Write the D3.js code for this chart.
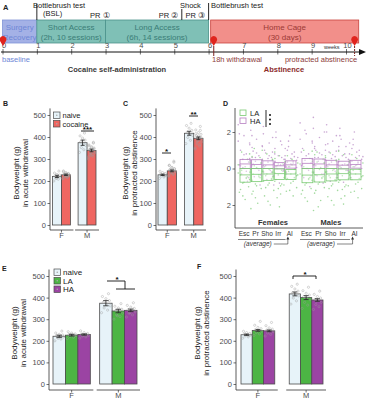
<!DOCTYPE html>
<html>
<head>
<meta charset="utf-8">
<style>
  body { margin: 0; background: #fff; }
  svg { font-family: "Liberation Sans", Arial, sans-serif; }
  .tick text { fill: #4d4d4d; font-size: 7.5px; }
  .tick line { stroke: #333; stroke-width: 0.7; }
</style>
</head>
<body>
<div id="fig"></div>
<script src="https://d3js.org/d3.v7.min.js"></script>
<script>
// ---------- data ----------
const sexes = ['F', 'M'];
const yTicks = [0, 100, 200, 300, 400, 500];

// timeline (weeks)
const weekTicks = [0, 1, 2, 3, 4, 5, 6, 7, 8, 9, 10];
const phaseTop = ['Surgery', 'Short Access', 'Long Access', 'Home Cage'];
const phaseSub = ['Recovery', '(2h, 10 sessions)', '(6h, 14 sessions)', '(30 days)'];
const phaseStart = [0, 1, 3, 6.06];
const phaseEnd = [1, 3, 6, 10.37];
const prWeeks = [3, 5, 5.78];
const prLabels = ['PR \u2460', 'PR \u2461', 'PR \u2462'];
const pinWeeks = [0, 6.15, 10.25];

// acute withdrawal (B, E)
const acuteNaiveMean = [221, 374], acuteNaiveSem = [5, 12];
const acuteCocMean = [228, 339], acuteCocSem = [3, 6];
const acuteLAMean = [226, 338], acuteLASem = [4, 8];
const acuteHAMean = [229, 341], acuteHASem = [3, 6];
const acuteNaivePts = [[200, 208, 214, 218, 221, 224, 227, 230, 236, 245, 212],
                       [330, 342, 352, 362, 370, 378, 386, 395, 405, 418]];
const acuteLAPts = [[210, 216, 220, 224, 226, 229, 232, 236, 242, 222, 228],
                    [300, 312, 320, 328, 335, 340, 346, 352, 360, 372, 316]];
const acuteHAPts = [[212, 218, 222, 225, 228, 231, 234, 238, 246, 229, 226],
                    [310, 320, 328, 334, 340, 344, 350, 356, 364, 376, 330]];

// protracted abstinence (C, F)
const protNaiveMean = [228, 417], protNaiveSem = [3, 9];
const protCocMean = [246, 394], protCocSem = [4, 6];
const protLAMean = [248, 400], protLASem = [4, 9];
const protHAMean = [246, 389], protHASem = [4, 6];
const protNaivePts = [[212, 218, 222, 226, 228, 231, 234, 238, 244, 225],
                      [370, 385, 398, 408, 415, 422, 430, 440, 452, 462]];
const protLAPts = [[225, 232, 238, 244, 248, 252, 256, 262, 272, 290, 246],
                   [350, 365, 378, 390, 398, 405, 412, 420, 432, 448, 395]];
const protHAPts = [[222, 230, 236, 242, 246, 250, 254, 260, 270, 285, 244],
                   [345, 358, 368, 378, 386, 392, 398, 405, 415, 430, 384]];

// D: z-scores per measure
const measures = ['Esc', 'Pr', 'Sho', 'Irr', 'AI'];
const haBoxF = [[0.0, 0.25, 0.5], [0.0, 0.22, 0.48], [0.0, 0.2, 0.42], [-0.02, 0.15, 0.32], [0.02, 0.2, 0.42]];
const haBoxM = [[0.0, 0.28, 0.55], [0.0, 0.25, 0.52], [0.0, 0.2, 0.45], [-0.02, 0.18, 0.4], [0.02, 0.22, 0.45]];
const laBoxF = [[-0.75, -0.35, 0.0], [-0.72, -0.32, 0.0], [-0.65, -0.3, 0.0], [-0.6, -0.28, -0.02], [-0.6, -0.3, -0.05]];
const laBoxM = [[-0.78, -0.36, 0.0], [-0.74, -0.34, 0.0], [-0.68, -0.3, 0.0], [-0.62, -0.28, -0.02], [-0.62, -0.3, -0.04]];
const haPtsF = [
  [2.4, 1.8, 1.3, 1.0, 0.8, 0.6, 0.5, 0.35, 0.2, 0.1, -0.05, -0.3, -0.7, 1.5, 0.75, 0.45, 0.15, -0.15, 1.15, 0.05, -0.5, 1.9],
  [2.1, 1.6, 1.2, 0.95, 0.7, 0.55, 0.4, 0.3, 0.15, 0.0, -0.2, -0.45, -0.9, 2.7, 0.85, 0.5, 0.25, -0.1, 1.4, 0.6, -0.3, 1.8],
  [1.9, 1.4, 1.1, 0.85, 0.6, 0.45, 0.35, 0.25, 0.1, -0.1, -0.35, -0.6, 1.7, 2.3, 0.7, 0.4, 0.15, -0.2, 1.25, 0.55, -0.9, 1.0],
  [1.7, 1.3, 0.9, 0.7, 0.5, 0.35, 0.2, 0.1, 0.0, -0.15, -0.4, -0.8, 1.1, 2.0, 0.6, 0.45, 0.25, -0.05, 0.8, 1.5, -0.3, 0.15],
  [1.2, 0.9, 0.7, 0.55, 0.45, 0.35, 0.3, 0.2, 0.1, 0.0, -0.2, 0.8, 0.6, 1.5, 0.65, 0.5, 0.25, 0.05, 1.0, 0.4, -0.1, 1.8]];
const haPtsM = [
  [2.5, 1.9, 1.4, 1.1, 0.8, 0.6, 0.45, 0.3, 0.15, 0.0, -0.2, -0.5, -1.0, 1.6, 0.7, 0.5, 0.2, -0.1, 1.2, 2.1, -0.4, 0.9],
  [2.2, 1.7, 1.3, 1.0, 0.75, 0.55, 0.4, 0.3, 0.2, 0.05, -0.15, -0.4, -0.8, 2.8, 0.85, 0.45, 0.15, -0.3, 1.5, 0.6, 2.0, 1.1],
  [2.0, 1.5, 1.2, 0.9, 0.65, 0.5, 0.35, 0.2, 0.1, -0.05, -0.3, -0.7, 1.8, 2.4, 0.75, 0.4, 0.25, -0.15, 1.0, 0.55, -0.5, 1.35],
  [1.8, 1.2, 0.95, 0.7, 0.5, 0.35, 0.25, 0.15, 0.05, -0.1, -0.35, -0.75, 1.4, 2.2, 0.6, 0.45, 0.2, -0.2, 1.0, 0.8, -0.5, 1.6],
  [1.3, 1.0, 0.8, 0.6, 0.5, 0.4, 0.3, 0.2, 0.1, -0.05, -0.25, 0.9, 0.65, 1.6, 0.7, 0.45, 0.15, 0.0, 1.1, 0.35, -0.1, 2.0]];
const laPtsF = [
  [0.9, 0.5, 0.2, 0.0, -0.2, -0.35, -0.5, -0.65, -0.8, -1.0, -1.3, -1.7, -2.2, -0.1, -0.45, -0.25, -0.75, 0.35, -1.15, -0.55, 0.65, -1.5],
  [1.1, 0.6, 0.3, 0.05, -0.15, -0.3, -0.45, -0.6, -0.85, -1.1, -1.4, -1.9, -0.7, 0.15, -0.5, -0.2, -0.95, 0.45, -1.25, -0.35, 0.8, -1.6],
  [0.8, 0.45, 0.15, -0.05, -0.25, -0.4, -0.55, -0.7, -0.9, -1.2, -1.5, -2.0, 0.3, -0.3, -0.45, -0.15, -0.8, 0.55, -1.05, -0.6, 1.0, -1.8],
  [0.7, 0.4, 0.1, -0.1, -0.2, -0.35, -0.5, -0.7, -0.95, -1.25, -1.6, 0.25, -0.45, -2.1, -0.3, -0.6, -0.85, 0.5, -1.1, -0.15, 0.9, -1.4],
  [0.5, 0.3, 0.1, -0.05, -0.2, -0.3, -0.4, -0.55, -0.7, -0.9, -1.2, -0.25, -0.6, 0.2, -0.35, -0.15, -0.5, 0.35, -0.8, -1.05, 0.7, -1.5]];
const laPtsM = [
  [1.0, 0.55, 0.25, 0.0, -0.2, -0.4, -0.55, -0.7, -0.9, -1.1, -1.4, -1.8, -2.3, 0.1, -0.5, -0.3, -0.8, 0.4, -1.2, -0.6, 0.75, -1.6],
  [0.9, 0.5, 0.2, -0.05, -0.2, -0.35, -0.5, -0.65, -0.85, -1.05, -1.35, -1.75, -0.3, 0.35, -0.45, -0.25, -0.75, 0.6, -1.2, -0.55, 0.95, -2.1],
  [0.85, 0.4, 0.15, -0.1, -0.25, -0.4, -0.6, -0.75, -0.95, -1.2, -1.55, -2.0, 0.3, -0.5, -0.5, -0.2, -0.85, 0.5, -1.1, -0.65, 0.7, -1.75],
  [0.75, 0.35, 0.1, -0.1, -0.25, -0.4, -0.55, -0.75, -1.0, -1.3, -1.65, 0.2, -0.3, -1.95, -0.35, -0.65, -0.9, 0.45, -1.15, -0.2, 0.95, -1.5],
  [0.55, 0.3, 0.1, -0.05, -0.2, -0.3, -0.45, -0.6, -0.75, -0.95, -1.25, -0.15, -0.5, 0.2, -0.4, -0.1, -0.55, 0.4, -0.85, -1.1, 0.75, -1.6]];

// colours
const col = { naive: '#e7f3f9', cocaine: '#ef6661', LA: '#4cb544', HA: '#9b44a3' };

// ---------- svg ----------
const svg = d3.select('#fig').append('svg')
  .attr('width', 366).attr('height', 400);

function txt(x, y, s, size, opts = {}) {
  return svg.append('text').attr('x', x).attr('y', y).text(s)
    .attr('font-size', size)
    .attr('fill', opts.fill || '#222')
    .attr('font-weight', opts.weight || 'normal')
    .attr('font-style', opts.style || 'normal')
    .attr('text-anchor', opts.anchor || 'start');
}

// panel letters
txt(3, 10, 'A', 7.5, { weight: 'bold' });
txt(3, 106, 'B', 7, { weight: 'bold' });
txt(123, 106, 'C', 7, { weight: 'bold' });
txt(223, 106, 'D', 7, { weight: 'bold' });
txt(2, 271, 'E', 7, { weight: 'bold' });
txt(197, 269, 'F', 7, { weight: 'bold' });

// ---------- A: timeline ----------
const wx = d3.scaleLinear().domain([0, 10]).range([2.5, 346]);
const phaseFill = ['#a4b1e6', '#7fc0b6', '#7fc0b6', '#f28f8a'];
const phaseStroke = ['#8193d6', '#4b928a', '#4b928a', '#c8433d'];
const phaseText = ['#6f87d6', '#3b7d76', '#3b7d76', '#9c3a36'];

phaseTop.forEach((p, i) => {
  const x0 = wx(phaseStart[i]), x1 = wx(phaseEnd[i]);
  svg.append('rect').attr('x', x0).attr('y', 20).attr('width', x1 - x0).attr('height', 23)
    .attr('fill', phaseFill[i]).attr('stroke', phaseStroke[i]).attr('stroke-width', 0.8);
  txt((x0 + x1) / 2, 30, p, 8, { anchor: 'middle', fill: phaseText[i] });
  txt((x0 + x1) / 2, 40, phaseSub[i], 8, { anchor: 'middle', fill: phaseText[i] });
});

const tl = svg.append('g').attr('transform', 'translate(0,52)')
  .call(d3.axisTop(wx).tickValues(weekTicks).tickSize(3).tickPadding(1));
tl.select('.domain').remove();
tl.selectAll('.tick text').attr('font-size', 6.5).attr('dx', 1);
tl.selectAll('.tick').append('line').attr('y1', 0).attr('y2', 2.5).attr('stroke', '#333').attr('stroke-width', 0.7);
svg.append('line').attr('x1', 1).attr('x2', 361).attr('y1', 52).attr('y2', 52)
  .attr('stroke', '#111').attr('stroke-width', 1);
svg.append('path').attr('d', 'M359,49 L366,52 L359,55 Z').attr('fill', '#111');
txt(324, 49, 'weeks', 5.5, { fill: '#333' });

// event markers above
svg.append('line').attr('x1', wx(1)).attr('x2', wx(1)).attr('y1', 4).attr('y2', 20).attr('stroke', '#111').attr('stroke-width', 0.9);
txt(33, 8, 'Bottlebrush test', 7.5);
txt(43, 16, '(BSL)', 7.5);
svg.append('line').attr('x1', wx(5.22)).attr('x2', wx(5.22)).attr('y1', 9).attr('y2', 20).attr('stroke', '#111').attr('stroke-width', 0.9);
txt(180, 8, 'Shock', 7.5);
svg.append('line').attr('x1', wx(6)).attr('x2', wx(6)).attr('y1', 3).attr('y2', 20).attr('stroke', '#111').attr('stroke-width', 0.9);
txt(211, 8, 'Bottlebrush test', 7.5);
prWeeks.forEach((w, i) => txt(wx(w) + 4, 18, prLabels[i], 7.5, { anchor: 'end' }));

// pins
pinWeeks.forEach((w, i) => {
  const x = wx(w) + (i === 0 ? 0.5 : 0), tip = 46;
  if (i > 0) {
    svg.append('line').attr('x1', x).attr('x2', x).attr('y1', tip).attr('y2', 56)
      .attr('stroke', '#7a2222').attr('stroke-width', 1)
      .attr('stroke-dasharray', i === 2 ? '2,1' : null);
  }
  svg.append('path')
    .attr('d', `M${x},${tip} L${x - 3},${tip - 5} A3.4,3.4 0 1,1 ${x + 3},${tip - 5} Z`)
    .attr('fill', '#e0241e');
});

txt(2, 62, 'baseline', 7.5, { fill: '#6f87d6' });
txt(117, 72, 'Cocaine self-administration', 7.5, { anchor: 'middle', weight: 'bold', fill: '#3a3a3a' });
txt(237, 62, '18h withdrawal', 7.5, { anchor: 'middle', fill: '#8c3b3b' });
txt(321, 62, 'protracted abstinence', 7.5, { anchor: 'middle', fill: '#8c3b3b' });
txt(284, 72, 'Abstinence', 7.5, { anchor: 'middle', weight: 'bold', fill: '#8c2b2b' });

// ---------- bar panels ----------
function drawBars(cfg) {
  const y = d3.scaleLinear().domain([0, 500]).range(cfg.yRange);
  const x = d3.scaleBand().domain(sexes).range(cfg.xRange).paddingInner(cfg.pad);
  const xs = d3.scaleBand().domain(cfg.groups).range([0, x.bandwidth()]);
  const g = svg.append('g');

  const ax = g.append('g').attr('transform', `translate(${cfg.axisX},0)`)
    .call(d3.axisLeft(y).tickValues(yTicks).tickSize(2.5).tickPadding(1.5));
  ax.select('.domain').remove();
  ax.selectAll('.tick text').attr('font-size', 8);
  g.append('line').attr('x1', cfg.axisX).attr('x2', cfg.axisX)
    .attr('y1', y(530)).attr('y2', cfg.baseY).attr('stroke', '#333').attr('stroke-width', 0.8);

  cfg.groups.forEach((grp, gi) => {
    sexes.forEach((s, si) => {
      const x0 = x(s) + xs(grp), w = xs.bandwidth(), m = cfg.means[gi][si], e = cfg.sems[gi][si];
      g.append('rect').attr('x', x0).attr('y', y(m)).attr('width', w).attr('height', y(0) - y(m))
        .attr('fill', col[grp]).attr('stroke', '#4d4d4d').attr('stroke-width', 0.8);
      const pts = cfg.pts[gi][si];
      g.selectAll(null).data(pts).join('circle')
        .attr('cx', (d, i) => x0 + w / 2 + (((i * 7) % 11) / 10 - 0.5) * w * 0.7)
        .attr('cy', d => y(d))
        .attr('r', 1.1)
        .attr('fill', 'none').attr('stroke', '#9a9a9a').attr('stroke-width', 0.5).attr('opacity', 0.8);
      const cx = x0 + w / 2, cw = w * 0.22;
      g.append('path')
        .attr('d', `M${cx - cw},${y(m + e)}H${cx + cw}M${cx},${y(m + e)}V${y(m - e)}M${cx - cw},${y(m - e)}H${cx + cw}`)
        .attr('stroke', '#222').attr('stroke-width', 0.8).attr('fill', 'none');
    });
  });

  sexes.forEach(s => {
    const x0 = x(s), x1 = x(s) + x.bandwidth();
    g.append('line').attr('x1', s === 'F' ? cfg.axisX : x0 - 3).attr('x2', x1 + 3)
      .attr('y1', cfg.baseY).attr('y2', cfg.baseY).attr('stroke', '#333').attr('stroke-width', 0.8);
    g.append('line').attr('x1', (x0 + x1) / 2).attr('x2', (x0 + x1) / 2)
      .attr('y1', cfg.baseY).attr('y2', cfg.baseY + 2.5).attr('stroke', '#333').attr('stroke-width', 0.7);
    g.append('text').attr('x', (x0 + x1) / 2).attr('y', cfg.baseY + 8.3).text(s)
      .attr('font-size', 7.5).attr('fill', '#4d4d4d').attr('text-anchor', 'middle');
  });

  const cy = (cfg.yRange[0] + cfg.yRange[1]) / 2 + 3;
  cfg.title.forEach((t, i) => {
    g.append('text').attr('transform', `translate(${cfg.titleX + i * 9},${cy}) rotate(-90)`)
      .text(t).attr('font-size', 8).attr('fill', '#222').attr('text-anchor', 'middle');
  });

  if (cfg.legend) {
    cfg.groups.forEach((grp, i) => {
      const ly = cfg.legend.y + i * 8.5;
      g.append('rect').attr('x', cfg.legend.x).attr('y', ly).attr('width', 6.5).attr('height', 6.5)
        .attr('fill', col[grp]).attr('stroke', '#4d4d4d').attr('stroke-width', 0.7);
      g.append('circle').attr('cx', cfg.legend.x + 3.25).attr('cy', ly + 3.25).attr('r', 0.8).attr('fill', '#aaa');
      g.append('text').attr('x', cfg.legend.x + 9).attr('y', ly + 6).text(grp)
        .attr('font-size', cfg.legend.size || 8).attr('fill', '#222');
    });
  }
  return { x, xs, y };
}

function sig(x1, x2, yLine, label) {
  svg.append('line').attr('x1', x1).attr('x2', x2).attr('y1', yLine).attr('y2', yLine)
    .attr('stroke', '#111').attr('stroke-width', 0.9);
  txt((x1 + x2) / 2, yLine + 1, label, 8, { anchor: 'middle', weight: 'bold', fill: '#111' });
}

// B
drawBars({
  groups: ['naive', 'cocaine'],
  means: [acuteNaiveMean, acuteCocMean], sems: [acuteNaiveSem, acuteCocSem],
  pts: [acuteNaivePts, [acuteLAPts[0].concat(acuteHAPts[0]), acuteLAPts[1].concat(acuteHAPts[1])]],
  yRange: [225, 115], xRange: [52.5, 96], pad: 0.3, axisX: 50, baseY: 230,
  title: ['Bodyweight (g)', 'in acute withdrawal'], titleX: 19,
  legend: { x: 53.5, y: 112, size: 7.5 }
});
sig(81, 94, 131, '***');

// C
drawBars({
  groups: ['naive', 'cocaine'],
  means: [protNaiveMean, protCocMean], sems: [protNaiveSem, protCocSem],
  pts: [protNaivePts, [protLAPts[0].concat(protHAPts[0]), protLAPts[1].concat(protHAPts[1])]],
  yRange: [225, 115], xRange: [158, 203], pad: 0.3, axisX: 156, baseY: 230,
  title: ['Bodyweight (g)', 'in protracted abstinence'], titleX: 128
});
sig(162, 171, 153, '*');
sig(189, 198, 116, '**');

// E
drawBars({
  groups: ['naive', 'LA', 'HA'],
  means: [acuteNaiveMean, acuteLAMean, acuteHAMean], sems: [acuteNaiveSem, acuteLASem, acuteHASem],
  pts: [acuteNaivePts, acuteLAPts, acuteHAPts],
  yRange: [384, 276], xRange: [53, 137], pad: 0.2, axisX: 49, baseY: 390,
  title: ['Bodyweight (g)', 'in acute withdrawal'], titleX: 17,
  legend: { x: 54, y: 269 }
});
svg.append('path').attr('d', 'M107,281H125V289M116,289H135')
  .attr('stroke', '#111').attr('stroke-width', 0.9).attr('fill', 'none');
txt(117, 282, '*', 8, { anchor: 'middle', weight: 'bold', fill: '#111' });

// F
drawBars({
  groups: ['naive', 'LA', 'HA'],
  means: [protNaiveMean, protLAMean, protHAMean], sems: [protNaiveSem, protLASem, protHASem],
  pts: [protNaivePts, protLAPts, protHAPts],
  yRange: [384, 276], xRange: [241, 323], pad: 0.3, axisX: 236, baseY: 390,
  title: ['Bodyweight (g)', 'in protracted abstinence'], titleX: 200
});
svg.append('path').attr('d', 'M293,279V276H316V279')
  .attr('stroke', '#111').attr('stroke-width', 0.9).attr('fill', 'none');
txt(305, 277, '*', 8, { anchor: 'middle', weight: 'bold', fill: '#111' });

// ---------- D: z-scores ----------
const dy = d3.scaleLinear().domain([-2, 2]).range([205, 132]);
const dxF = d3.scaleBand().domain(measures).range([240, 296]).paddingInner(0.1);
const dxM = d3.scaleBand().domain(measures).range([302, 361]).paddingInner(0.1);
const dAx = svg.append('g').attr('transform', 'translate(235,0)')
  .call(d3.axisLeft(dy).tickValues([-2, 0, 2]).tickSize(2.5).tickPadding(1.5).tickFormat(d => Math.abs(d)));
dAx.select('.domain').remove();
svg.append('line').attr('x1', 235).attr('x2', 235).attr('y1', 108).attr('y2', 228).attr('stroke', '#333').attr('stroke-width', 0.8);
svg.append('line').attr('x1', 235).attr('x2', 363).attr('y1', 228).attr('y2', 228).attr('stroke', '#333').attr('stroke-width', 0.8);

const dSets = [
  { x: dxF, ha: haPtsF, la: laPtsF, haBox: haBoxF, laBox: laBoxF },
  { x: dxM, ha: haPtsM, la: laPtsM, haBox: haBoxM, laBox: laBoxM }];
dSets.forEach(set => {
  measures.forEach((m, mi) => {
    const cx = set.x(m) + set.x.bandwidth() / 2, w = set.x.bandwidth();
    [['HA', set.ha[mi], '#c199cc'], ['LA', set.la[mi], '#93d48e']].forEach(([grp, vals, c], k) => {
      svg.selectAll(null).data(vals).join('circle')
        .attr('cx', (d, i) => cx + ((((i * 5 + k * 3 + mi) % 13) / 12) - 0.5) * w * 1.35)
        .attr('cy', d => dy(d))
        .attr('r', 0.8).attr('fill', c).attr('opacity', 0.85);
    });
    [[set.haBox[mi], '#b67fc1'], [set.laBox[mi], '#79c972']].forEach(([b, c]) => {
      svg.append('rect').attr('x', cx - w / 2).attr('y', dy(b[2])).attr('width', w)
        .attr('height', dy(b[0]) - dy(b[2])).attr('fill', '#fff').attr('fill-opacity', 0.35)
        .attr('stroke', c).attr('stroke-width', 0.8);
      svg.append('line').attr('x1', cx - w / 2).attr('x2', cx + w / 2).attr('y1', dy(b[1])).attr('y2', dy(b[1]))
        .attr('stroke', c).attr('stroke-width', 0.8);
    });
  });
});

txt(273, 225, 'Females', 7.5, { anchor: 'middle', weight: 'bold', fill: '#333' });
txt(331, 225, 'Males', 7.5, { anchor: 'middle', weight: 'bold', fill: '#333' });
[dxF, dxM].forEach((sx, si) => {
  measures.forEach(m => {
    txt(sx(m) + sx.bandwidth() / 2 - 1, 236, m, 6.5, { anchor: 'middle', fill: '#333' });
  });
  const a = sx('Esc') - 2, b = sx('Irr') + sx.bandwidth() + 1, ax = sx('AI') + sx.bandwidth() / 2 - 3;
  svg.append('path').attr('d', `M${a},239.5H${b}`).attr('stroke', '#333').attr('stroke-width', 0.6);
  txt((a + b) / 2 - 4, 246, '(average)', 6.5, { anchor: 'middle', style: 'italic', fill: '#333' });
  svg.append('path').attr('d', `M${(a + b) / 2 + 12},244H${ax}V239`).attr('stroke', '#333').attr('stroke-width', 0.6).attr('fill', 'none');
  svg.append('path').attr('d', `M${ax - 1.5},239.5L${ax},236.5L${ax + 1.5},239.5Z`).attr('fill', '#333');
});

// D legend
[['LA', '#79c972'], ['HA', '#b67fc1']].forEach(([l, c], i) => {
  svg.append('rect').attr('x', 240).attr('y', 110 + i * 8).attr('width', 6).attr('height', 5.5)
    .attr('fill', 'none').attr('stroke', c).attr('stroke-width', 0.8);
  txt(250, 116 + i * 8, l, 7.5, { fill: '#222' });
});
svg.append('line').attr('x1', 266).attr('x2', 266).attr('y1', 110).attr('y2', 127).attr('stroke', '#111').attr('stroke-width', 0.9);
[115, 119.5, 124].forEach(v => svg.append('circle').attr('cx', 270).attr('cy', v).attr('r', 1).attr('fill', '#111'));
</script>
</body>
</html>
